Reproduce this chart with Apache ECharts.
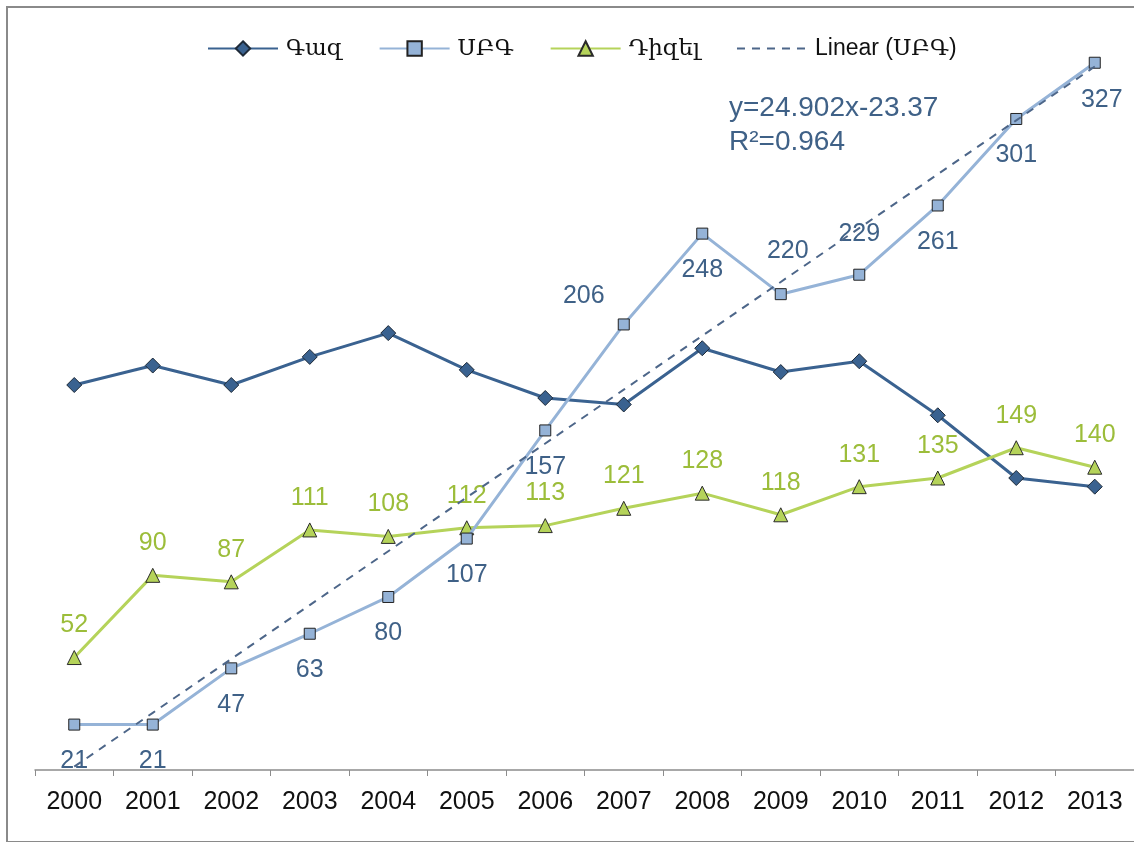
<!DOCTYPE html>
<html>
<head>
<meta charset="utf-8">
<title>Գազ, ՍԲԳ, Դիզել 2000-2013</title>
<script src="https://cdn.jsdelivr.net/npm/echarts@6/dist/echarts.min.js"></script>
<style>
  html, body { margin: 0; padding: 0; background: #fff; }
  #chart { position: absolute; left: 0; top: 0; width: 1134px; height: 842px; }
  #frame { position: absolute; left: 6px; top: 6px; width: 1140px; height: 833px;
           border: 2px solid #8a8a8a; pointer-events: none; }
</style>
</head>
<body>
<div id="chart"></div>
<div id="frame"></div>
<script>
// Years on the category axis
const years = ['2000','2001','2002','2003','2004','2005','2006','2007','2008','2009','2010','2011','2012','2013'];

// Series values
const gas    = [178, 187, 178, 191, 202, 185, 172, 169, 195, 184, 189, 164, 135, 131];
const sbg    = [21, 21, 47, 63, 80, 107, 157, 206, 248, 220, 229, 261, 301, 327];
const diesel = [52, 90, 87, 111, 108, 112, 113, 121, 128, 118, 131, 135, 149, 140];

// Linear fit of ՍԲԳ, x = 1..14
const trendSlope = 24.902;
const trendIntercept = -23.37;
const trendR2 = 0.964;

const seriesNames = ['Գազ', 'ՍԲԳ', 'Դիզել', 'Linear (ՍԲԳ)'];

const FONT = "'Liberation Sans', Arial, 'DejaVu Sans', sans-serif";
const LEGEND_FONT = "'Liberation Sans', Arial, 'DejaVu Serif', 'DejaVu Sans', serif";
const C_GAS = '#3a6290';
const C_SBG = '#95b3d7';
const C_SBG_LABEL = '#3f6187';
const C_DIESEL = '#b5d35a';
const C_DIESEL_LABEL = '#9cbd3a';
const C_TREND = '#4d6689';

// Per-point label placement for ՍԲԳ (above or below the marker)
const sbgLabelPlace = {
  7: { position: 'top', distance: 10, offset: [-40, 0] },
  9: { position: 'top', distance: 25, offset: [7, 0] },
  10: { position: 'top', distance: 22, offset: [0, 0] },
  13: { position: 'bottom', distance: 19, offset: [7, 0] }
};

const sbgData = sbg.map((v, i) => {
  const p = sbgLabelPlace[i];
  return p ? { value: v, label: p } : v;
});

const trendData = years.map((_, i) => +(trendSlope * (i + 1) + trendIntercept).toFixed(3));

const chart = echarts.init(document.getElementById('chart'), null, { renderer: 'canvas' });

chart.setOption({
  animation: false,
  backgroundColor: '#ffffff',
  textStyle: { fontFamily: FONT },
  legend: {
    data: [
      seriesNames[0],
      seriesNames[1],
      seriesNames[2],
      { name: seriesNames[3], itemStyle: { color: 'rgba(0,0,0,0)', borderWidth: 0, opacity: 0 } }
    ],
    left: 202,
    top: 32,
    itemWidth: 70,
    itemHeight: 18,
    itemGap: 36,
    textStyle: { fontFamily: LEGEND_FONT, fontSize: 23, color: '#111', padding: [0, 0, 0, 3] }
  },
  grid: { left: 35, right: -1, top: 13, bottom: 72, containLabel: false },
  xAxis: {
    type: 'category',
    data: years,
    boundaryGap: true,
    axisLine: { lineStyle: { color: '#8c8c8c', width: 1.5 } },
    axisTick: { show: true, inside: false, length: 6, lineStyle: { color: '#8c8c8c' } },
    axisLabel: { color: '#111', fontSize: 25, fontFamily: FONT, margin: 20 },
    splitLine: { show: false }
  },
  yAxis: {
    type: 'value',
    min: 0,
    max: 350,
    show: false,
    splitLine: { show: false }
  },
  series: [
    {
      name: seriesNames[0],
      type: 'line',
      data: gas,
      symbol: 'diamond',
      symbolSize: 15,
      lineStyle: { color: C_GAS, width: 3 },
      itemStyle: { color: C_GAS, borderColor: '#1e2a38', borderWidth: 1 },
      z: 3
    },
    {
      name: seriesNames[1],
      type: 'line',
      data: sbgData,
      symbol: 'rect',
      symbolSize: 11,
      lineStyle: { color: C_SBG, width: 3 },
      itemStyle: { color: C_SBG, borderColor: '#222', borderWidth: 1 },
      label: {
        show: true,
        position: 'bottom',
        distance: 18,
        color: C_SBG_LABEL,
        fontSize: 25,
        fontFamily: FONT
      },
      z: 4
    },
    {
      name: seriesNames[2],
      type: 'line',
      data: diesel,
      symbol: 'triangle',
      symbolSize: 14,
      lineStyle: { color: C_DIESEL, width: 3 },
      itemStyle: { color: C_DIESEL, borderColor: '#2a2a2a', borderWidth: 1 },
      label: {
        show: true,
        position: 'top',
        distance: 12,
        color: C_DIESEL_LABEL,
        fontSize: 25,
        fontFamily: FONT
      },
      z: 3
    },
    {
      name: seriesNames[3],
      type: 'line',
      data: trendData,
      symbol: 'none',
      showSymbol: false,
      lineStyle: { color: C_TREND, width: 2, type: [8, 7] },
      itemStyle: { color: C_TREND },
      z: 5
    }
  ],
  graphic: [
    {
      type: 'text',
      left: 729,
      top: 91,
      style: {
        text: 'y=' + trendSlope + 'x' + trendIntercept + '\nR²=' + trendR2,
        fill: C_SBG_LABEL,
        font: '28px ' + FONT,
        lineHeight: 34
      }
    }
  ]
});
</script>
</body>
</html>
